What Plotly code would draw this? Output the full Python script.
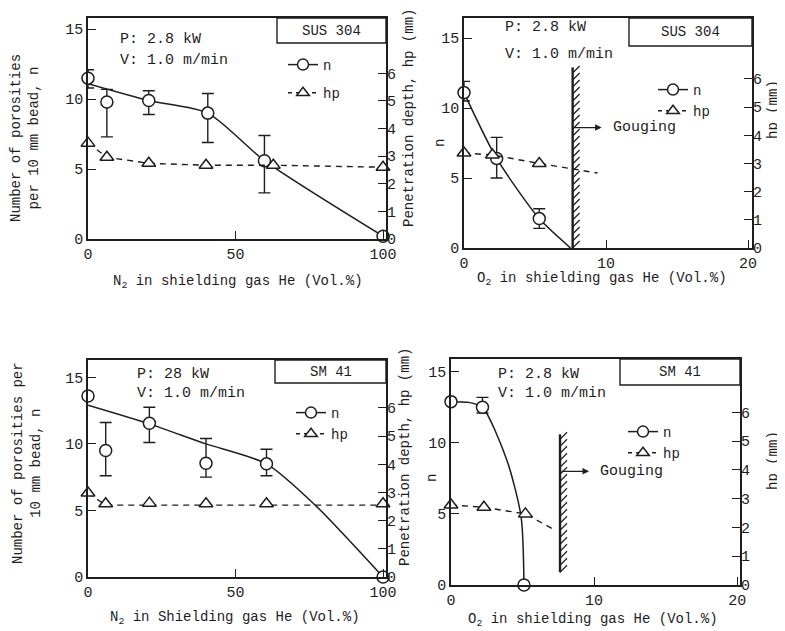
import numpy as np
import plotly.graph_objects as go

W, H = 785, 631
OFF = 8                      # page body margin of the browser
FW, FH = W - OFF, H - OFF    # figure size that fits inside the window
FONT = "Liberation Mono"
INK = "#1e1e1e"

# ---------------- data ----------------
# Panel 1: SUS 304, N2 in He
p1_n_x = [0, 6.4, 20.6, 40.6, 59.8, 100]
p1_n = [11.5, 9.8, 9.9, 9.0, 5.6, 0.2]
p1_n_hi = [12.1, 10.7, 10.6, 10.4, 7.4, 0.2]
p1_n_lo = [10.8, 7.3, 8.9, 6.9, 3.3, 0.2]
p1_curve_x = [0, 20.6, 40.6, 59.8, 100]
p1_curve_n = [11.1, 9.9, 9.0, 5.6, 0.2]
p1_hp_x = [0, 6.4, 20.6, 40.0, 62.8, 100]
p1_hp = [3.47, 2.96, 2.74, 2.67, 2.67, 2.6]
p1_hp_line_x = p1_hp_x
p1_hp_line = p1_hp

# Panel 2: SUS 304, O2 in He
p2_n_x = [0, 2.3, 5.3]
p2_n = [11.1, 6.4, 2.1]
p2_n_hi = [11.9, 7.9, 2.8]
p2_n_lo = [10.5, 5.0, 1.4]
p2_curve_x = [0, 2.3, 5.3, 7.5]
p2_curve_n = [11.1, 6.4, 2.1, 0.0]
p2_hp_x = [0, 2.0, 5.3]
p2_hp = [3.37, 3.3, 3.0]
p2_hp_line_x = [0, 2.0, 5.3, 9.4]
p2_hp_line = [3.37, 3.3, 3.0, 2.66]
p2_gouge_x, p2_gouge_top, p2_gouge_bot, p2_arrow_n = 7.65, 12.9, 0.0, 8.6

# Panel 3: SM 41, N2 in He
p3_n_x = [0, 6.0, 20.8, 40.0, 60.5, 100]
p3_n = [13.6, 9.5, 11.55, 8.55, 8.5, 0.0]
p3_n_hi = [13.6, 11.6, 12.75, 10.4, 9.6, 0.0]
p3_n_lo = [13.6, 7.6, 10.1, 7.5, 7.6, 0.0]
p3_curve_x = [0, 20.8, 40.0, 60.5, 77, 100]
p3_curve_n = [12.9, 11.5, 10.0, 8.5, 5.4, 0.0]
p3_hp_x = [0, 6.0, 20.8, 40.0, 60.5, 100]
p3_hp = [2.98, 2.6, 2.62, 2.6, 2.6, 2.6]
p3_hp_line_x = p3_hp_x
p3_hp_line = [2.98, 2.55, 2.55, 2.55, 2.55, 2.55]

# Panel 4: SM 41, O2 in He
p4_n_x = [0, 2.2, 5.1]
p4_n = [12.9, 12.5, 0.0]
p4_n_hi = [12.9, 13.2, 0.0]
p4_n_lo = [12.9, 12.1, 0.0]
p4_curve_x = [0, 1.2, 2.2, 3.9, 4.9, 5.1]
p4_curve_n = [12.9, 12.85, 12.5, 8.8, 4.8, 0.0]
p4_hp_x = [0, 2.3, 5.2]
p4_hp = [2.78, 2.7, 2.47]
p4_hp_line_x = [0, 2.3, 5.2, 7.3]
p4_hp_line = [2.78, 2.7, 2.47, 1.9]
p4_gouge_x, p4_gouge_top, p4_gouge_bot, p4_arrow_n = 7.62, 10.6, 0.9, 8.0

n_ticks = [0, 5, 10, 15]
hp_ticks = [0, 1, 2, 3, 4, 5, 6]
n2_ticks = [0, 50, 100]
o2_ticks = [0, 10, 20]

# ---------------- layout helpers (window pixels -> paper fractions) ----------------
def X(px):
    return (px - OFF) / FW


def Y(py):
    return 1 - (py - OFF) / FH


panels = [
    dict(box=(88, 386, 18, 239), xr=[0, 101], nr=[0, 15.8], hr=[0, 8.0], xt=n2_ticks,
         n_x=p1_n_x, n=p1_n, hi=p1_n_hi, lo=p1_n_lo, cx=p1_curve_x, cn=p1_curve_n,
         hx=p1_hp_x, hp=p1_hp, hlx=p1_hp_line_x, hl=p1_hp_line, gouge=None,
         mat="SUS 304", matbox=(277, 386, 18, 43), P="P: 2.8 kW", Ppos=(118, 40, 60),
         leg=(283, 49), leggap=7,
         xtitle="N<sub>2</sub> in shielding gas He (Vol.%)", xtpos=(238, 282),
         ltitle="Number of porosities<br>per 10 mm bead, n", ltpos=(25, 138),
         rtitle="Penetration depth, hp (mm)", rtpos=(409, 118)),
    dict(box=(464, 752, 18, 248), xr=[0, 20.28], nr=[0, 16.43], hr=[0, 8.16], xt=o2_ticks,
         n_x=p2_n_x, n=p2_n, hi=p2_n_hi, lo=p2_n_lo, cx=p2_curve_x, cn=p2_curve_n,
         hx=p2_hp_x, hp=p2_hp, hlx=p2_hp_line_x, hl=p2_hp_line,
         gouge=(p2_gouge_x, p2_gouge_top, p2_gouge_bot, p2_arrow_n),
         mat="SUS 304", matbox=(629, 752, 18, 46), P="P: 2.8 kW", Ppos=(503, 28, 55),
         leg=(653, 74), leggap=0,
         xtitle="O<sub>2</sub> in shielding gas He (Vol.%)", xtpos=(602, 279),
         ltitle="n", ltpos=(440, 143),
         rtitle="hp (mm)", rtpos=(773, 110)),
    dict(box=(88, 386, 360, 577), xr=[0, 101], nr=[0, 16.3], hr=[0, 7.7], xt=n2_ticks,
         n_x=p3_n_x, n=p3_n, hi=p3_n_hi, lo=p3_n_lo, cx=p3_curve_x, cn=p3_curve_n,
         hx=p3_hp_x, hp=p3_hp, hlx=p3_hp_line_x, hl=p3_hp_line, gouge=None,
         mat="SM 41", matbox=(275, 386, 360, 383), P="P: 28 kW", Ppos=(135, 375, 393),
         leg=(291, 397), leggap=0,
         xtitle="N<sub>2</sub> in Shielding gas He (Vol.%)", xtpos=(235, 618),
         ltitle="Number of porosities per<br>10 mm bead, n", ltpos=(27, 463),
         rtitle="Penetration depth, hp (mm)", rtpos=(405, 457)),
    dict(box=(451, 740, 359, 585), xr=[0, 20.2], nr=[0, 15.9], hr=[0, 7.85], xt=o2_ticks,
         n_x=p4_n_x, n=p4_n, hi=p4_n_hi, lo=p4_n_lo, cx=p4_curve_x, cn=p4_curve_n,
         hx=p4_hp_x, hp=p4_hp, hlx=p4_hp_line_x, hl=p4_hp_line,
         gouge=(p4_gouge_x, p4_gouge_top, p4_gouge_bot, p4_arrow_n),
         mat="SM 41", matbox=(620, 740, 359, 385), P="P: 2.8 kW", Ppos=(496, 375, 393),
         leg=(623, 416), leggap=0,
         xtitle="O<sub>2</sub> in shielding gas He (Vol.%)", xtpos=(593, 620),
         ltitle="n", ltpos=(432, 478),
         rtitle="hp (mm)", rtpos=(773, 461)),
]

fig = go.Figure()
layout = dict(width=FW, height=FH, margin=dict(l=0, r=0, t=0, b=0, autoexpand=False),
              paper_bgcolor="white", plot_bgcolor="white",
              font=dict(family=FONT, size=14, color=INK), showlegend=True,
              annotations=[], shapes=[])

axis_common = dict(showgrid=False, zeroline=False, ticks="inside", ticklen=8,
                   tickwidth=1.3, tickcolor=INK, linecolor=INK, linewidth=1.6,
                   automargin=False,
                   tickfont=dict(family=FONT, size=15, color=INK))


def note(x, y, text, size=14, angle=0, xanchor="center"):
    return dict(x=X(x), y=Y(y), xref="paper", yref="paper", text=text,
                showarrow=False, textangle=angle, xanchor=xanchor, yanchor="middle",
                font=dict(family=FONT, size=size, color=INK))


for k, p in enumerate(panels):
    i = k + 1
    xa = "x" if i == 1 else f"x{i}"
    yl_i, yr_i = 2 * i - 1, 2 * i
    yl = "y" if yl_i == 1 else f"y{yl_i}"
    yr = f"y{yr_i}"
    x0, x1, y0, y1 = p["box"]
    xdom = [X(x0), X(x1)]
    ydom = [Y(y1), Y(y0)]
    layout["xaxis" if i == 1 else f"xaxis{i}"] = dict(
        axis_common, domain=xdom, range=p["xr"], tickvals=p["xt"],
        anchor=yl, showline=True, mirror=True)
    layout["yaxis" if yl_i == 1 else f"yaxis{yl_i}"] = dict(
        axis_common, domain=ydom, range=p["nr"], tickvals=n_ticks,
        anchor=xa, showline=True, mirror=True)
    layout[f"yaxis{yr_i}"] = dict(
        axis_common, domain=ydom, range=p["hr"], tickvals=hp_ticks,
        anchor=xa, overlaying=yl, side="right", showline=False)

    lg = "legend" if i == 1 else f"legend{i}"

    # n curve
    fig.add_trace(go.Scatter(x=p["cx"], y=p["cn"], mode="lines", xaxis=xa, yaxis=yl,
                             line=dict(color=INK, width=1.5, shape="spline", smoothing=0.7),
                             showlegend=False, hoverinfo="skip"))
    # hp dashed line
    fig.add_trace(go.Scatter(x=p["hlx"], y=p["hl"], mode="lines", xaxis=xa, yaxis=yr,
                             line=dict(color=INK, width=1.4, dash="6px,5px"),
                             showlegend=False, hoverinfo="skip"))
    # gouging boundary
    if p["gouge"]:
        gx, gt, gb, ay = p["gouge"]
        ppx = (x1 - x0) / (p["xr"][1] - p["xr"][0])
        ppy = (y1 - y0) / (p["nr"][1] - p["nr"][0])
        fig.add_trace(go.Scatter(x=[gx, gx], y=[gb, gt], mode="lines", xaxis=xa, yaxis=yl,
                                 line=dict(color=INK, width=2.4), showlegend=False,
                                 hoverinfo="skip"))
        hx, hy = [], []
        for s in np.arange(gb, gt - 0.3, 7.0 / ppy):
            hx += [gx, gx + 7.0 / ppx, None]
            hy += [s, s + 7.0 / ppy, None]
        fig.add_trace(go.Scatter(x=hx, y=hy, mode="lines", xaxis=xa, yaxis=yl,
                                 line=dict(color=INK, width=1.2), showlegend=False,
                                 hoverinfo="skip"))
        layout["annotations"].append(dict(
            x=gx + 29 / ppx, y=ay, ax=gx, ay=ay, xref=xa, yref=yl, axref=xa, ayref=yl,
            showarrow=True, arrowhead=2, arrowsize=1, arrowwidth=1.3, arrowcolor=INK, text=""))
        layout["annotations"].append(dict(
            x=gx + 38 / ppx, y=ay, xref=xa, yref=yl, text="Gouging", showarrow=False,
            xanchor="left", yanchor="middle", font=dict(family=FONT, size=15, color=INK)))

    # n markers with error bars
    plus = [h - v for h, v in zip(p["hi"], p["n"])]
    minus = [v - l for l, v in zip(p["lo"], p["n"])]
    fig.add_trace(go.Scatter(x=p["n_x"], y=p["n"], mode="markers", xaxis=xa, yaxis=yl,
                             marker=dict(symbol="circle", size=12, color="white",
                                         line=dict(color=INK, width=1.5)),
                             error_y=dict(type="data", symmetric=False, array=plus,
                                          arrayminus=minus, color=INK, thickness=1.4, width=6),
                             cliponaxis=False, showlegend=False))
    # hp markers
    fig.add_trace(go.Scatter(x=p["hx"], y=p["hp"], mode="markers", xaxis=xa, yaxis=yr,
                             marker=dict(symbol="triangle-up", size=12, color="white",
                                         line=dict(color=INK, width=1.5)),
                             cliponaxis=False, showlegend=False))
    # legend entries
    fig.add_trace(go.Scatter(x=[None], y=[None], mode="lines+markers", name="n",
                             xaxis=xa, yaxis=yl, legend=lg, legendgroup=f"n{i}",
                             line=dict(color=INK, width=1.5),
                             marker=dict(symbol="circle", size=11, color="white",
                                         line=dict(color=INK, width=1.5))))
    fig.add_trace(go.Scatter(x=[None], y=[None], mode="lines+markers", name="hp",
                             xaxis=xa, yaxis=yr, legend=lg, legendgroup=f"h{i}",
                             line=dict(color=INK, width=1.4, dash="4px,4px"),
                             marker=dict(symbol="triangle-up", size=11, color="white",
                                         line=dict(color=INK, width=1.5))))
    lx, ly = p["leg"]
    layout[lg] = dict(x=X(lx), y=Y(ly), xanchor="left", yanchor="top",
                      bgcolor="rgba(0,0,0,0)", borderwidth=0, tracegroupgap=p["leggap"],
                      font=dict(family=FONT, size=14, color=INK), itemwidth=30)

    # material box
    bx0, bx1, by0, by1 = p["matbox"]
    layout["shapes"].append(dict(type="rect", xref="paper", yref="paper",
                                 x0=X(bx0), x1=X(bx1), y0=Y(by1), y1=Y(by0),
                                 line=dict(color=INK, width=1.4), fillcolor="white"))
    layout["annotations"].append(note((bx0 + bx1) / 2, (by0 + by1) / 2, p["mat"], 14))
    # conditions
    px_, pa, pb = p["Ppos"]
    layout["annotations"].append(note(px_, pa, p["P"], 15, xanchor="left"))
    layout["annotations"].append(note(px_, pb, "V: 1.0 m/min", 15, xanchor="left"))
    # axis titles
    layout["annotations"].append(note(*p["xtpos"], p["xtitle"], 14))
    layout["annotations"].append(note(*p["ltpos"], p["ltitle"], 14, angle=-90))
    layout["annotations"].append(note(*p["rtpos"], p["rtitle"], 14, angle=-90))

fig.update_layout(**layout)
fig.write_html("out.html")
